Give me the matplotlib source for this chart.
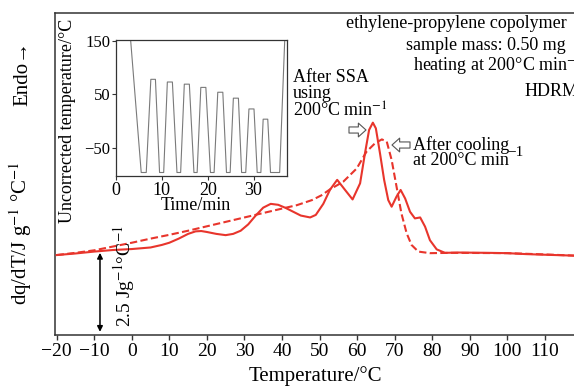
import matplotlib
matplotlib.use("Agg")
import matplotlib.pyplot as plt

plt.rcParams['font.family'] = ['Liberation Serif', 'DejaVu Serif']
plt.rcParams['mathtext.fontset'] = 'stix'

# main DSC curves (temperature in degC, dq/dT in J g-1 degC-1 above the axis floor)
ssa_temp = [-20, -15, -10, -5, 0, 5, 8, 10, 12.5, 15, 17, 18.5, 20, 22.5, 25, 27, 29, 31,
            33, 35, 37, 39, 41, 43, 45, 47.5, 49, 51, 52.8, 54.7, 56.8, 58.8, 60.8, 62.1,
            63.2, 64.2, 65.0, 66.1, 67.2, 68.3, 69.2, 70.5, 71.6, 72.8, 74.1, 75.4, 76.8,
            78.1, 79.4, 81.2, 83.4, 87, 95, 100, 105, 110, 118.3]
ssa_dqdt = [2.53, 2.58, 2.64, 2.69, 2.72, 2.77, 2.85, 2.92, 3.05, 3.20, 3.28, 3.29, 3.26,
            3.20, 3.16, 3.20, 3.30, 3.50, 3.78, 4.03, 4.15, 4.12, 4.02, 3.90, 3.78, 3.72,
            3.80, 4.15, 4.60, 4.91, 4.59, 4.29, 4.80, 5.75, 6.49, 6.72, 6.54, 5.75, 4.91,
            4.27, 4.06, 4.38, 4.59, 4.32, 3.90, 3.69, 3.72, 3.43, 3.00, 2.71, 2.60, 2.61,
            2.60, 2.59, 2.56, 2.54, 2.51]

cool_temp = [-20, -15, -10, -5, 0, 5, 10, 15, 20, 25, 30, 35, 40, 44, 48, 50.5, 52.8, 56.3,
             59.9, 62.5, 64.8, 66.6, 67.9, 69.2, 70.5, 71.8, 73.2, 74.5, 76.3, 79.4, 85,
             100, 110, 118.3]
cool_dqdt = [2.53, 2.60, 2.68, 2.80, 2.92, 3.05, 3.17, 3.30, 3.44, 3.58, 3.72, 3.86, 4.00,
             4.11, 4.27, 4.42, 4.61, 4.85, 5.27, 5.80, 6.07, 6.19, 6.12, 5.54, 4.70, 3.85,
             3.22, 2.85, 2.64, 2.59, 2.60, 2.59, 2.55, 2.51]

# inset: SSA temperature program
prog_time = [3.2, 5.5, 6.6, 7.6, 8.6, 9.5, 10.4, 11.2, 12.3, 13.3, 14.1, 14.9, 16.0, 17.0,
             17.7, 18.5, 19.6, 20.6, 21.4, 22.2, 23.3, 24.1, 24.9, 25.6, 26.7, 27.4, 28.3,
             29.0, 30.1, 30.8, 31.6, 32.1, 33.1, 33.7, 35.7, 36.8]
prog_temp = [150, -95, -95, 78, 78, -95, -95, 73, 73, -95, -95, 69, 69, -95, -95, 63, 63,
             -95, -95, 54, 54, -95, -95, 43, 43, -95, -95, 23, 23, -95, -95, 4, 4, -95,
             -95, 150]

xticks = [-20, -10, 0, 10, 20, 30, 40, 50, 60, 70, 80, 90, 100, 110]
W, H = 574, 386
red = '#e8352c'
dark = '#333333'


def fx(px):
    return px / W


def fy(py):
    return 1 - py / H


fig = plt.figure(figsize=(W / 100, H / 100), dpi=100)
ax = fig.add_axes([fx(55), fy(335), 521 / W, 322 / H])
ax.plot(ssa_temp, ssa_dqdt, color=red, lw=1.5, zorder=3)
ax.plot(cool_temp, cool_dqdt, color=red, lw=1.5, dashes=(3.5, 1.6), zorder=3)
ax.set_xlim(-20.45, 118.3)
ax.set_ylim(0, 10.19)
ax.set_xticks(xticks)
ax.set_yticks([])
ax.tick_params(axis='x', direction='out', length=3.6, width=1, color=dark,
               labelsize=14, pad=2.5)
for s in ax.spines.values():
    s.set_color(dark)
    s.set_linewidth(1.1)

# 2.5 J g-1 C-1 scale bar
ax.annotate('', xy=(-8.47, 2.6), xytext=(-8.47, 0.1),
            arrowprops=dict(arrowstyle='<|-|>', color='black', lw=1.1,
                            shrinkA=0, shrinkB=0, mutation_scale=8))
fig.text(fx(124), fy(276), '2.5 Jg$^{-1}$°C$^{-1}$', rotation=90, fontsize=14,
         ha='center', va='center')

fig.text(fx(315), fy(376), 'Temperature/°C', fontsize=15, ha='center', va='center')
fig.text(fx(21), fy(233), 'dq/dT/J g$^{-1}$ °C$^{-1}$', rotation=90, fontsize=15,
         ha='center', va='center')
fig.text(fx(23), fy(74), 'Endo→', rotation=90, fontsize=15, ha='center', va='center')

# sample info
fig.text(fx(346), fy(24), 'ethylene-propylene copolymer', fontsize=13, va='center')
fig.text(fx(406), fy(45), 'sample mass: 0.50 mg', fontsize=13, va='center')
fig.text(fx(413), fy(66), 'heating at 200°C min$^{-1}$', fontsize=13, va='center')
fig.text(fx(525), fy(91), 'HDRM', fontsize=13, va='center')

# curve labels
fig.text(fx(293), fy(77), 'After SSA', fontsize=13, va='center')
fig.text(fx(293), fy(94), 'using', fontsize=13, va='center')
fig.text(fx(293), fy(111), '200°C min$^{-1}$', fontsize=13, va='center')
fig.text(fx(413), fy(145), 'After cooling', fontsize=13, va='center')
fig.text(fx(413), fy(161), 'at 200°C min', fontsize=13, va='center')
fig.text(fx(507), fy(152), '−1', fontsize=11, va='center')

hollow = dict(arrowstyle='simple,head_length=0.5,head_width=0.9,tail_width=0.4',
              fc='white', ec='#555555', lw=0.8, shrinkA=0, shrinkB=0, mutation_scale=11)
ax.annotate('', xy=(366, H - 130), xytext=(349, H - 130), xycoords='figure pixels',
            textcoords='figure pixels', arrowprops=hollow)
ax.annotate('', xy=(392, H - 145), xytext=(410, H - 145), xycoords='figure pixels',
            textcoords='figure pixels', arrowprops=hollow)

# inset with the temperature program
ax2 = fig.add_axes([fx(116), fy(176), 171 / W, 136 / H])
ax2.plot(prog_time, prog_temp, color='#7a7a7a', lw=0.8)
ax2.set_xlim(0, 37.3)
ax2.set_ylim(-101.5, 151)
ax2.set_xticks([0, 10, 20, 30])
ax2.set_yticks([-50, 50, 150])
ax2.tick_params(axis='x', direction='out', length=3, color=dark, labelsize=13, pad=1)
ax2.tick_params(axis='y', direction='out', length=3, color=dark, labelsize=12, pad=1)
for s in ax2.spines.values():
    s.set_color(dark)
    s.set_linewidth(0.9)
fig.text(fx(196), fy(205), 'Time/min', fontsize=13, ha='center', va='center')
fig.text(fx(68), fy(121), 'Uncorrected temperature/°C', rotation=90, fontsize=13,
         ha='center', va='center')

fig.savefig('out.png', dpi=100)
